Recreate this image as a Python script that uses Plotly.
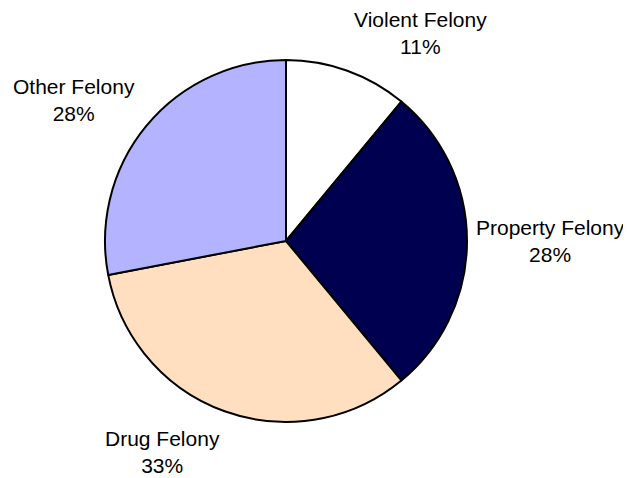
import plotly.graph_objects as go

categories = ["Violent Felony", "Property Felony", "Drug Felony", "Other Felony"]
values = [11, 28, 33, 28]
colors = ["#FFFFFF", "#000050", "#FFDFC0", "#B3B3FF"]
pct_labels = ["11%", "28%", "33%", "28%"]

W, H = 631, 478
OFF = 8  # page body margin offset
cx, cy, r = 286 - OFF, 241 - OFF, 181

fig = go.Figure(go.Pie(
    labels=categories,
    values=values,
    sort=False,
    direction="clockwise",
    rotation=0,
    textinfo="none",
    marker=dict(colors=colors, line=dict(color="black", width=2)),
    domain=dict(x=[(cx - r) / W, (cx + r) / W], y=[(H - cy - r) / H, (H - cy + r) / H]),
    showlegend=False,
))

label_pos = [(420, 33), (550, 241), (162, 452), (74, 100)]
for name, pct, (px, py) in zip(categories, pct_labels, label_pos):
    fig.add_annotation(
        x=(px - OFF) / W, y=1 - (py - OFF) / H, xref="paper", yref="paper",
        text=f"{name}<br>{pct}", showarrow=False,
        font=dict(family="Liberation Sans, Arial", size=21, color="black"),
        xanchor="center", yanchor="middle", align="center",
    )

fig.update_layout(
    width=W, height=H,
    margin=dict(l=0, r=0, t=0, b=0),
    paper_bgcolor="white", plot_bgcolor="white",
)
fig.write_html("out.html")
